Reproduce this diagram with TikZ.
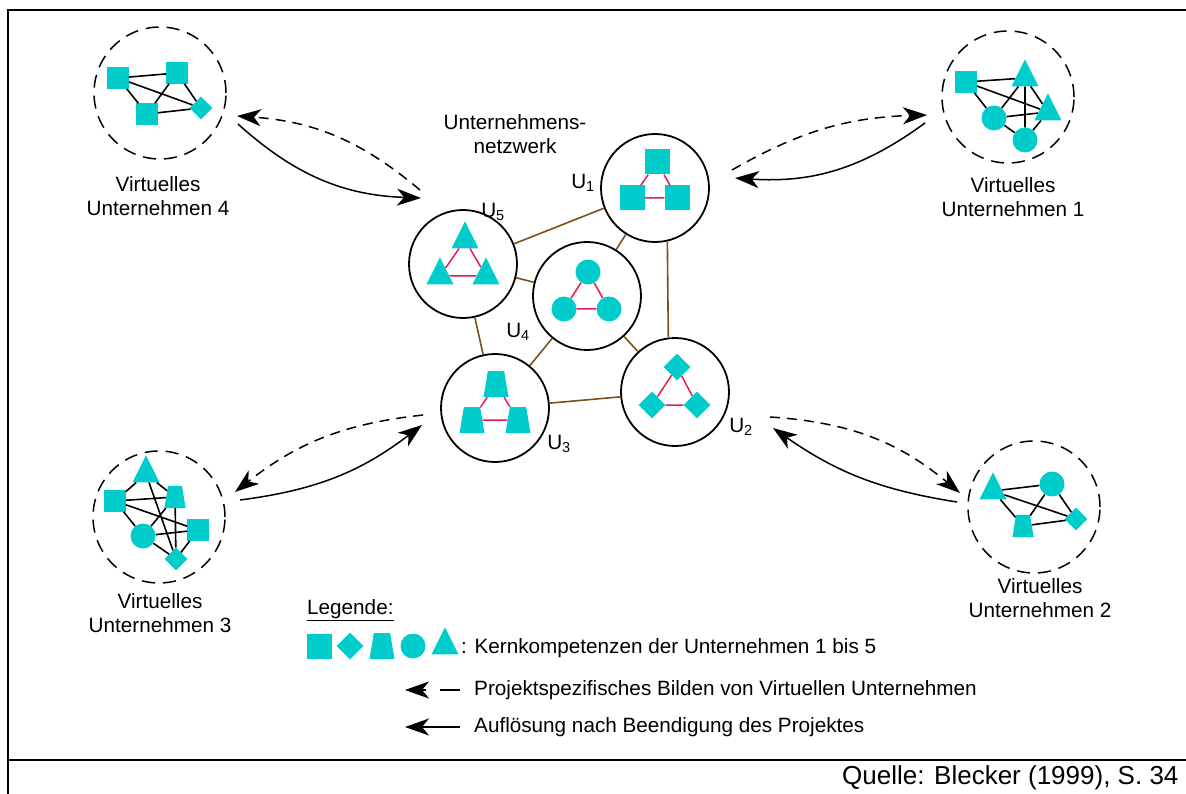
\documentclass[tikz,border=0pt]{standalone}
\usepackage{fontspec}
\setmainfont{Liberation Sans}
\usetikzlibrary{shapes.geometric}
\usetikzlibrary{arrows.meta}
\definecolor{kern}{RGB}{0,204,204}
\definecolor{kante}{RGB}{235,25,85}
\definecolor{netz}{RGB}{125,80,25}

\begin{document}
\begin{tikzpicture}[x=1pt,y=1pt,font=\fontsize{20.7pt}{24pt}\selectfont,
    sq/.style={rectangle,fill=kern,inner sep=0pt,minimum size=25pt},
    rt/.style={diamond,fill=kern,inner sep=0pt,minimum size=27pt},
    tz/.style={trapezium,trapezium left angle=75,trapezium right angle=75,trapezium stretches=true,fill=kern,inner sep=1pt,minimum width=25pt,minimum height=26pt},
    kr/.style={circle,fill=kern,inner sep=0pt,minimum size=25pt},
    dr/.style={isosceles triangle,isosceles triangle apex angle=53,isosceles triangle stretches,shape border rotate=90,fill=kern,inner sep=0pt,minimum width=27pt,minimum height=27pt},
    klein/.style={scale=0.85},
    firma/.style={circle,draw,line width=1.8pt,minimum size=108pt,inner sep=0pt},
    vu/.style={circle,draw,dash pattern=on 13pt off 8pt,line width=1.5pt,minimum size=132pt,inner sep=0pt},
    intern/.style={draw=kante,line width=1.5pt},
    netzlinie/.style={draw=netz,line width=1.6pt},
    partner/.style={draw,line width=1.6pt},
    bilden/.style={line width=1.5pt,dash pattern=on 10pt off 7pt,-{Stealth[length=24pt,width=17pt,inset=7pt]}},
    aufloesen/.style={line width=1.5pt,-{Stealth[length=24pt,width=17pt,inset=7pt]}}]

    \useasboundingbox (0,0) rectangle (1186,-794);

    % Rahmen
    \draw[line width=2pt] (8,-794) -- (8,-10) -- (1186,-10);
    \draw[line width=2pt] (8,-760) -- (1186,-760);
    \node[anchor=east,font=\fontsize{26pt}{30pt}\selectfont] (quelle) at (1182,-778) {Quelle: Blecker (1999), S. 34};

    % Unternehmensnetzwerk
    \node[align=center] (netzwerk) at (515,-134) {Unternehmens-\\netzwerk};

    \node[firma] (u1) at (655,-188){};
    \node[firma] (u5) at (463,-264){};
    \node[firma] (u4) at (587,-296){};
    \node[firma] (u3) at (495,-408){};
    \node[firma] (u2) at (675,-392){};

    \node (lu1) at (583,-183){U\textsubscript{1}};
    \node (lu5) at (493,-212){U\textsubscript{5}};
    \node (lu4) at (518,-332){U\textsubscript{4}};
    \node (lu3) at (559,-444){U\textsubscript{3}};
    \node (lu2) at (741,-427){U\textsubscript{2}};

    \draw[netzlinie] (u5) -- (u1);
    \draw[netzlinie] (u5) -- (u4);
    \draw[netzlinie] (u5) -- (u3);
    \draw[netzlinie] (u4) -- (u1);
    \draw[netzlinie] (u4) -- (u3);
    \draw[netzlinie] (u4) -- (u2);
    \draw[netzlinie] (u1.-77) -- (u2.97);
    \draw[netzlinie] (u3) -- (u2);

    % Kernkompetenzen in den Unternehmen
    \node[sq] (u1a) at (657,-162){};
    \node[sq] (u1b) at (632,-198){};
    \node[sq] (u1c) at (677,-198){};
    \draw[intern] (u1a) -- (u1b) -- (u1c) -- (u1a);

    \node[dr] (u5a) at (465,-240){};
    \node[dr] (u5b) at (440,-276){};
    \node[dr] (u5c) at (486,-276){};
    \draw[intern] (u5a) -- (u5b) -- (u5c) -- (u5a);

    \node[kr] (u4a) at (588,-272){};
    \node[kr] (u4b) at (564,-309){};
    \node[kr] (u4c) at (609,-309){};
    \draw[intern] (u4a) -- (u4b) -- (u4c) -- (u4a);

    \node[tz] (u3a) at (496,-384){};
    \node[tz] (u3b) at (472,-420){};
    \node[tz] (u3c) at (518,-420){};
    \draw[intern] (u3a) -- (u3b) -- (u3c) -- (u3a);

    \node[rt] (u2a) at (677,-367){};
    \node[rt] (u2b) at (652,-405){};
    \node[rt] (u2c) at (697,-405){};
    \draw[intern] (u2a) -- (u2b) -- (u2c) -- (u2a);

    % Virtuelles Unternehmen 4
    \node[vu] (v4) at (160,-93){};
    \node[sq,klein] (v4a) at (118,-78){};
    \node[sq,klein] (v4b) at (177,-73){};
    \node[sq,klein] (v4c) at (147,-114){};
    \node[rt,klein] (v4d) at (201,-108){};
    \draw[partner] (v4a) -- (v4b) -- (v4c) -- (v4a) -- (v4d) -- (v4b);
    \draw[partner] (v4c) -- (v4d);
    \node[align=center] (t4) at (158,-196){Virtuelles\\Unternehmen 4};

    % Virtuelles Unternehmen 1
    \node[vu] (v1) at (1008,-97){};
    \node[sq,klein] (v1a) at (966,-82){};
    \node[dr] (v1b) at (1025,-78){};
    \node[dr] (v1c) at (1048,-112){};
    \node[kr] (v1d) at (994,-118){};
    \node[kr] (v1e) at (1025,-140){};
    \draw[partner] (v1a) -- (v1b) -- (v1c) -- (v1a) -- (v1d) -- (v1b) -- (v1e) -- (v1c) -- (v1d) -- (v1e);
    \node[align=center] (t1) at (1013,-197){Virtuelles\\Unternehmen 1};

    % Virtuelles Unternehmen 3
    \node[vu] (v3) at (159,-517){};
    \node[dr] (v3a) at (146,-474){};
    \node[sq,klein] (v3b) at (115,-501){};
    \node[tz,klein] (v3c) at (175,-497){};
    \node[sq,klein] (v3d) at (198,-530){};
    \node[kr] (v3e) at (143,-536){};
    \node[rt,klein] (v3f) at (176,-559){};
    \draw[partner] (v3a) -- (v3b) -- (v3c) -- (v3a) -- (v3f) -- (v3c) -- (v3e) -- (v3b) -- (v3d) -- (v3e) -- (v3f) -- (v3d);
    \node[align=center] (t3) at (160,-613){Virtuelles\\Unternehmen 3};

    % Virtuelles Unternehmen 2
    \node[vu] (v2) at (1034,-507){};
    \node[dr] (v2a) at (993,-491){};
    \node[kr] (v2b) at (1052,-484){};
    \node[tz,klein] (v2c) at (1023,-526){};
    \node[rt,klein] (v2d) at (1076,-519){};
    \draw[partner] (v2a) -- (v2b) -- (v2c) -- (v2a) -- (v2d) -- (v2b);
    \draw[partner] (v2c) -- (v2d);
    \node[align=center] (t2) at (1040,-598){Virtuelles\\Unternehmen 2};

    % Bilden und Aufloesen
    \coordinate (b4s) at (420,-190);
    \coordinate (b4e) at (237,-116);
    \coordinate (a4s) at (238,-124);
    \coordinate (a4e) at (421,-198);
    \draw[bilden] (b4s) to[bend right=18] (b4e);
    \draw[aufloesen] (a4s) to[bend right=20] (a4e);

    \coordinate (b1s) at (732,-170);
    \coordinate (b1e) at (927,-115);
    \coordinate (a1s) at (925,-123);
    \coordinate (a1e) at (735,-178);
    \draw[bilden] (b1s) to[bend left=14] (b1e);
    \draw[aufloesen] (a1s) to[bend left=20] (a1e);

    \coordinate (b3s) at (423,-415);
    \coordinate (b3e) at (235,-492);
    \coordinate (a3s) at (240,-500);
    \coordinate (a3e) at (422,-425);
    \draw[bilden] (b3s) to[bend right=16] (b3e);
    \draw[aufloesen] (a3s) to[bend right=15] (a3e);

    \coordinate (b2s) at (770,-417);
    \coordinate (b2e) at (960,-493);
    \coordinate (a2s) at (957,-502);
    \coordinate (a2e) at (773,-428);
    \draw[bilden] (b2s) to[bend left=18] (b2e);
    \draw[aufloesen] (a2s) to[bend left=13] (a2e);

    % Legende
    \node[anchor=west,inner sep=0pt] (legende) at (307,-610){\underline{Legende:}};
    \node[sq] (lsq) at (319,-646){};
    \node[rt] (lrt) at (350,-646){};
    \node[tz] (ltz) at (382,-646){};
    \node[kr] (lkr) at (413,-646){};
    \node[dr] (ldr) at (445,-646){};
    \node[anchor=west,inner sep=0pt] (lkern) at (461,-648){: Kernkompetenzen der Unternehmen 1 bis 5};

    \coordinate (lbs) at (460,-690);
    \coordinate (lbe) at (405,-690);
    \draw[bilden,dash pattern=on 20pt off 14pt] (lbs) -- (lbe);
    \node[anchor=west,inner sep=0pt] (lbilden) at (474,-690){Projektspezifisches Bilden von Virtuellen Unternehmen};

    \coordinate (las) at (460,-727);
    \coordinate (lae) at (405,-727);
    \draw[aufloesen] (las) -- (lae);
    \node[anchor=west,inner sep=0pt] (lauf) at (474,-727){Auflösung nach Beendigung des Projektes};
\end{tikzpicture}
\end{document}
